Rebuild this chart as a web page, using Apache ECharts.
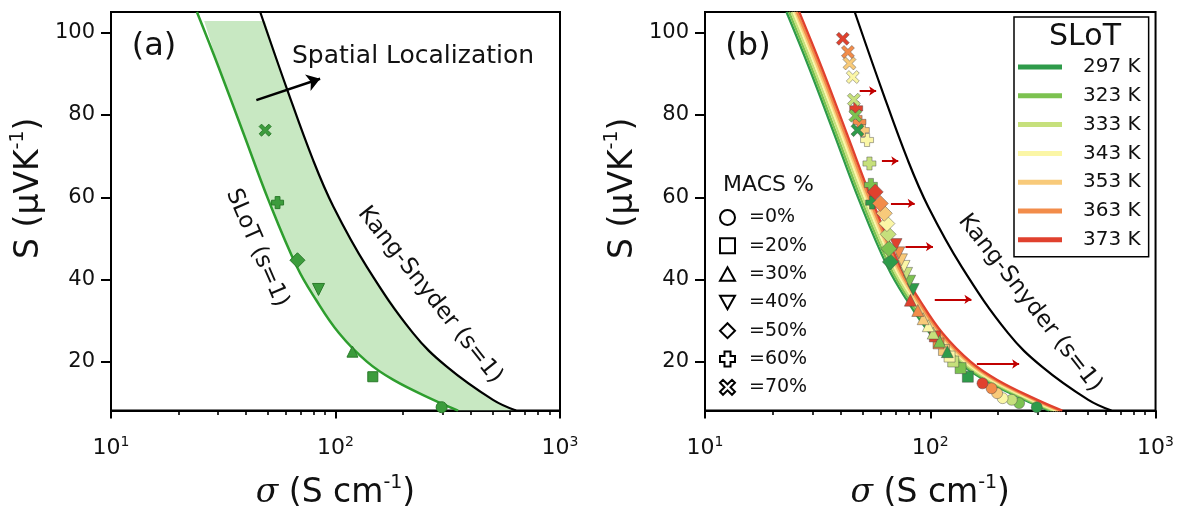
<!DOCTYPE html>
<html><head><meta charset="utf-8">
<script src="https://cdn.jsdelivr.net/npm/echarts@6/dist/echarts.min.js"></script>
<style>html,body{margin:0;padding:0;background:#fff}#c{width:1177px;height:515px}</style>
</head><body><div id="c"></div>
<script>
// ---------- data ----------
const xMajorTicks = [10, 100, 1000];
const xMinorTicks = [20,30,40,50,60,70,80,90,200,300,400,500,600,700,800,900];
const yTicks = [20, 40, 60, 80, 100];

const kangSnyder = [[46.2,105],[60.7,86.4],[79.5,69.0],[97.9,57.7],[137.9,43.1],[221.6,27.0],[313,18.85],[503,10.77],[637,8.18]];
const slotA = [[24.14,105],[30.13,91.65],[38.93,75.49],[50.29,59.31],[67.3,43.12],[82.0,35.04],[103.8,26.96],[137.9,20.07],[181.1,15.63],[272.9,10.78],[351.6,8.18]];
const bandTopCorners = [[26.0,102.8],[48.5,102.8]];

const macsLevels = ['=0%','=20%','=30%','=40%','=50%','=60%','=70%'];
const aPointLevels = ['=70%','=60%','=50%','=40%','=30%','=20%','=0%'];
const aPoints = [[48.6,76.3],[55.2,58.7],[67.7,44.7],[84.0,37.6],[119,22.5],[146.6,16.4],[297,9.0]];
const spatialArrow = [[44.4,83.6],[85.4,88.8]];

const temps = ['297 K','323 K','333 K','343 K','353 K','363 K','373 K'];
const slotY = [105, 91.65, 75.49, 59.31, 43.12, 35.04, 26.96, 20.07, 15.63, 10.78, 8.18];
const slot297x = [23.0, 28.9, 37.4, 48.3, 64.6, 78.7, 99.6, 132.4, 174.0, 262.0, 338.0];
const slot323x = [23.6, 29.6, 38.3, 49.5, 66.2, 80.7, 102.1, 135.7, 178.4, 268.6, 346.5];
const slot333x = [24.2, 30.3, 39.3, 50.7, 67.8, 82.6, 104.6, 139.0, 182.7, 275.1, 354.9];
const slot343x = [24.7, 31.1, 40.2, 51.9, 69.4, 84.6, 107.1, 142.3, 187.1, 281.7, 363.4];
const slot353x = [25.2, 31.6, 41.0, 52.9, 70.7, 86.2, 109.1, 145.0, 190.5, 286.9, 370.1];
const slot363x = [25.6, 32.2, 41.7, 53.9, 72.0, 87.8, 111.1, 147.6, 194.0, 292.1, 376.9];
const slot373x = [26.2, 32.9, 42.6, 55.1, 73.6, 89.7, 113.5, 150.9, 198.4, 298.7, 385.3];

// points per MACS level, ordered 297 K ... 373 K
const b0  = [[297,9.0],[248,10.0],[230,10.8],[209.5,11.2],[198,12.4],[187,13.6],[170.5,14.8]];
const b20 = [[146.8,16.4],[136.3,18.5],[126.4,20.1],[121.8,21.3],[115,22.9],[108.8,24.5],[104.8,26.2]];
const b30 = [[119,22.5],[110,25],[103,27],[98,28.8],[93,30.5],[88,32.5],[81.6,35.0]];
const b40 = [[84,37.6],[81,39.6],[78.5,41.5],[76.5,43.2],[74.5,44.8],[72.5,46.5],[70.5,48.5]];
const b50 = [[66.5,44.3],[65.5,47.5],[65,51],[64.2,53.6],[62.5,56.1],[60,58.5],[57,61.3]];
const b60 = [[55.2,58.7],[54.5,63],[53.7,68.2],[52.4,73.9],[50.2,76.3],[48.5,78.3],[46.9,81.6]];
const b70 = [[47.5,76.3],[46.5,79.8],[45.8,83.7],[45.3,89.2],[43.8,92.5],[43.1,95.3],[40.9,98.5]];

const redArrows = [
  [[48.6,85.8],[57.5,85.8]],
  [[61.0,68.8],[72.1,68.8]],
  [[66.9,58.5],[85.3,58.5]],
  [[77.6,48.0],[102.8,48.0]],
  [[104.7,35.2],[152.3,35.2]],
  [[161,19.5],[248,19.5]]
];

// ---------- styles ----------
const FONT = 'DejaVu Sans';
const tempColors = ['#2e9b4a','#7cc250','#c6e07c','#fbf6a6','#f8ca7a','#f28c4a','#e0412e'];
const PLUS = 'path://M3,0 H7 V3 H10 V7 H7 V10 H3 V7 H0 V3 H3 Z';
const XCROSS = 'path://M0,2 L2,0 L5,3 L8,0 L10,2 L7,5 L10,8 L8,10 L5,7 L2,10 L0,8 L3,5 Z';
const TRI_DOWN = 'path://M0,0 L10,0 L5,9 Z';
const TRI_UP = 'path://M5,0 L10,9 L0,9 Z';
const shapeOf = {'=0%':'circle','=20%':'rect','=30%':TRI_UP,'=40%':TRI_DOWN,'=50%':'diamond','=60%':PLUS,'=70%':XCROSS};
const sizeOf = {'=0%':11,'=20%':11,'=30%':12,'=40%':12,'=50%':16,'=60%':13,'=70%':13};
const zOf = {'=0%':4,'=20%':4,'=30%':4,'=40%':4,'=50%':6,'=60%':5,'=70%':5};
const sizeOfA = {'=0%':11,'=20%':10,'=30%':11,'=40%':12,'=50%':15,'=60%':12,'=70%':12};

function xMain(grid) {
  return {
    type: 'log', logBase: 10, gridIndex: grid, min: 10, max: 1000, position: 'bottom',
    axisLine: {lineStyle: {color: '#000', width: 2}},
    axisTick: {customValues: xMajorTicks, length: 8, lineStyle: {color: '#000', width: 2}},
    axisLabel: {
      customValues: xMajorTicks, margin: 25,
      formatter: v => '{b|10}{s|' + Math.round(Math.log10(v)) + '}',
      rich: {
        b: {fontFamily: FONT, fontSize: 22, color: '#111', lineHeight: 26},
        s: {fontFamily: FONT, fontSize: 14, color: '#111', verticalAlign: 'top', lineHeight: 14}
      }
    },
    splitLine: {show: false}, minorTick: {show: false},
    name: '{i|σ}{n| (S cm}{s|-1}{n|)}', nameLocation: 'middle', nameGap: 63,
    nameTextStyle: {rich: {
      i: {fontFamily: 'DejaVu Serif', fontStyle: 'italic', fontSize: 33, color: '#111', lineHeight: 40},
      n: {fontFamily: FONT, fontSize: 33, color: '#111', lineHeight: 40},
      s: {fontFamily: FONT, fontSize: 19, color: '#111', verticalAlign: 'top', lineHeight: 19}
    }}
  };
}
function xMinor(grid) {
  return {
    type: 'log', logBase: 10, gridIndex: grid, min: 10, max: 1000, position: 'bottom',
    axisLine: {show: false}, axisLabel: {show: false}, splitLine: {show: false},
    axisTick: {customValues: xMinorTicks, length: 4.5, lineStyle: {color: '#000', width: 1.6}}
  };
}
function yAx(grid) {
  return {
    type: 'value', gridIndex: grid, min: 8.2, max: 105,
    axisLine: {show: true, lineStyle: {color: '#000', width: 2}},
    axisTick: {show: true, customValues: yTicks, length: 10, lineStyle: {color: '#000', width: 2}},
    axisLabel: {customValues: yTicks, margin: 16, fontFamily: FONT, fontSize: 21, color: '#111'},
    splitLine: {show: false},
    name: '{n|S (μVK}{s|-1}{n|)}', nameLocation: 'middle', nameRotate: 90, nameGap: 62,
    nameTextStyle: {padding: [0, 0, 0, 46], rich: {
      n: {fontFamily: FONT, fontSize: 33, color: '#111', lineHeight: 40},
      s: {fontFamily: FONT, fontSize: 19, color: '#111', verticalAlign: 'top', lineHeight: 19}
    }}
  };
}

// band polygon built from the curves
const bandPolygon = [bandTopCorners[0]]
  .concat(slotA.filter(p => p[1] < bandTopCorners[0][1]))
  .concat(kangSnyder.filter(p => p[1] < bandTopCorners[1][1]).reverse())
  .concat([bandTopCorners[1]]);

const series = [];
series.push({
  type: 'custom', xAxisIndex: 0, yAxisIndex: 0, clip: true, z: 1, silent: true,
  data: bandPolygon,
  renderItem: (params, api) => {
    if (params.dataIndex !== 0) return null;
    return {type: 'polygon', shape: {points: bandPolygon.map(p => api.coord(p)), smooth: 0},
            style: {fill: '#c8e8c2'}};
  }
});
series.push({type: 'line', name: 'KS a', xAxisIndex: 0, yAxisIndex: 0, data: kangSnyder, smooth: 0.4,
  showSymbol: false, clip: true, lineStyle: {color: '#000', width: 2.2}, z: 3});
series.push({type: 'line', name: 'SLoT a', xAxisIndex: 0, yAxisIndex: 0, data: slotA, smooth: 0.4,
  showSymbol: false, clip: true, lineStyle: {color: '#2e9e2e', width: 2.5}, z: 3});
series.push({type: 'scatter', name: 'pts a', xAxisIndex: 0, yAxisIndex: 0, z: 4,
  data: aPoints.map((p, i) => ({value: p, symbol: shapeOf[aPointLevels[i]], symbolSize: sizeOfA[aPointLevels[i]]})),
  itemStyle: {color: '#3c9c3c', borderColor: '#2a7a2a', borderWidth: 1, opacity: 1}});
series.push({type: 'lines', name: 'arrow a', coordinateSystem: 'cartesian2d', xAxisIndex: 0, yAxisIndex: 0, z: 5,
  symbol: ['none', 'arrow'], symbolSize: 13,
  lineStyle: {color: '#000', width: 2.5, opacity: 1},
  data: [{coords: spatialArrow}]});

series.push({type: 'line', name: 'KS b', xAxisIndex: 2, yAxisIndex: 1, data: kangSnyder, smooth: 0.4,
  showSymbol: false, clip: true, lineStyle: {color: '#000', width: 2.2}, z: 3});
[slot297x, slot323x, slot333x, slot343x, slot353x, slot363x, slot373x].forEach((xs, i) => {
  series.push({type: 'line', name: temps[i], xAxisIndex: 2, yAxisIndex: 1,
    data: xs.map((x, k) => [x, slotY[k]]), smooth: 0.4,
    showSymbol: false, clip: true, color: tempColors[i], lineStyle: {color: tempColors[i], width: 2.3}, z: 3});
});
const bPts = [b0, b20, b30, b40, b50, b60, b70];
bPts.forEach((arr, k) => {
  const lvl = macsLevels[k];
  series.push({type: 'scatter', name: lvl, xAxisIndex: 2, yAxisIndex: 1, z: zOf[lvl],
    symbol: shapeOf[lvl], symbolSize: sizeOf[lvl], color: '#ffffff',
    data: arr.map((p, i) => ({value: p, itemStyle: {color: tempColors[i]}})),
    itemStyle: {borderColor: 'rgba(70,70,70,0.55)', borderWidth: 0.8, opacity: 1}});
});
series.push({type: 'lines', name: 'arrows b', coordinateSystem: 'cartesian2d', xAxisIndex: 2, yAxisIndex: 1, z: 7,
  symbol: ['none', 'arrow'], symbolSize: 7,
  lineStyle: {color: '#c00000', width: 1.8, opacity: 1},
  data: redArrows.map(c => ({coords: c}))});

const txt = (x, y, text, size, opts) => Object.assign({type: 'text', x: x, y: y, z: 100,
  style: {text: text, font: size + 'px "' + FONT + '"', fill: '#111', align: 'center', verticalAlign: 'middle'}}, opts || {});

const option = {
  animation: false,
  backgroundColor: '#fff',
  grid: [
    {left: 111, top: 12, width: 449, height: 399, show: true, borderColor: '#000', borderWidth: 2, backgroundColor: 'transparent'},
    {left: 705, top: 12, width: 454, height: 399, show: true, borderColor: '#000', borderWidth: 2, backgroundColor: 'transparent'}
  ],
  xAxis: [xMain(0), xMinor(0), xMain(1), xMinor(1)],
  yAxis: [yAx(0), yAx(1)],
  legend: [
    {
      data: temps.map((t, i) => ({name: t, icon: 'rect', itemStyle: {color: tempColors[i]}})),
      orient: 'vertical', left: 1014, top: 17,
      itemWidth: 44, itemHeight: 5, itemGap: 8.8,
      padding: [40, 8, 7, 4], borderColor: '#000', borderWidth: 1.5,
      selectedMode: false,
      textStyle: {fontFamily: FONT, fontSize: 20, color: '#111', lineHeight: 20, padding: [0, 0, 0, 16]}
    },
    {
      data: macsLevels.map(l => ({name: l, icon: shapeOf[l], itemStyle: {color: '#fff', borderColor: '#000', borderWidth: 2}})),
      orient: 'vertical', left: 719, top: 207,
      itemWidth: 15, itemHeight: 15, itemGap: 7.3, padding: 0,
      selectedMode: false,
      textStyle: {fontFamily: FONT, fontSize: 19, color: '#111', lineHeight: 21, padding: [0, 0, 0, 9]}
    }
  ],
  graphic: [
    txt(154, 47, '(a)', 32),
    txt(748, 47, '(b)', 32),
    txt(292, 56, 'Spatial Localization', 25, {style: {text: 'Spatial Localization', font: '25px "' + FONT + '"', fill: '#111', align: 'left', verticalAlign: 'middle'}}),
    txt(257, 248, 'SLoT (s=1)', 23, {rotation: -66.6 * Math.PI / 180}),
    txt(430, 295, 'Kang-Snyder (s=1)', 23, {rotation: -51.6 * Math.PI / 180}),
    txt(1030, 303, 'Kang-Snyder (s=1)', 23, {rotation: -52 * Math.PI / 180}),
    txt(1085, 37, 'SLoT', 30),
    txt(723, 185, 'MACS %', 22, {style: {text: 'MACS %', font: '22px "' + FONT + '"', fill: '#111', align: 'left', verticalAlign: 'middle'}})
  ],
  series: series
};
const chart = echarts.init(document.getElementById('c'), null, {renderer: 'canvas'});
chart.setOption(option);
</script></body></html>
